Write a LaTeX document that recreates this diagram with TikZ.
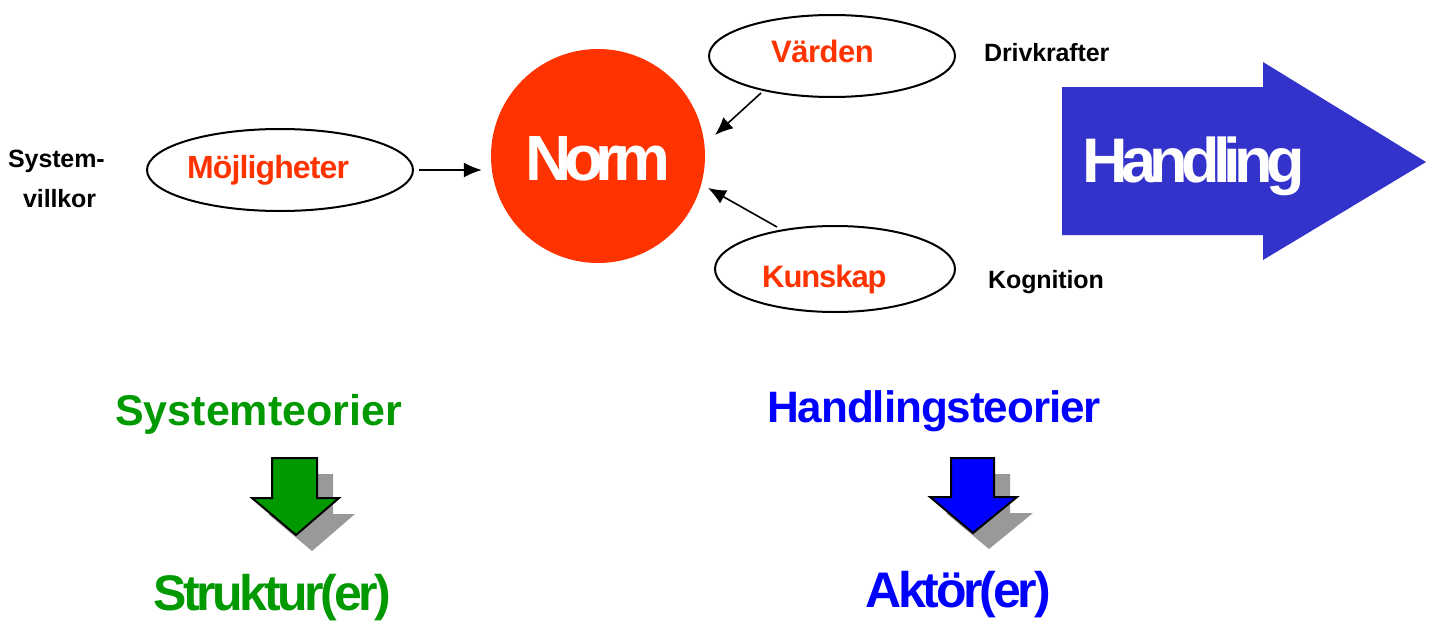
\documentclass[tikz,border=0pt]{standalone}
\usepackage{fontspec}
\setmainfont{Liberation Sans}
\usetikzlibrary{arrows.meta,shapes.geometric}
\definecolor{normred}{HTML}{FF3300}
\definecolor{handblue}{HTML}{3333CC}
\definecolor{tgreen}{HTML}{009900}
\definecolor{tblue}{HTML}{0000FF}
\definecolor{shadowgray}{HTML}{999999}
\newcommand{\tf}[2]{\bfseries\fontsize{#1}{#1}\selectfont\addfontfeature{LetterSpace=#2}}
\tikzset{
  oval/.style={ellipse,draw=black,line width=2pt,inner sep=0pt},
  txt/.style={inner sep=0pt,anchor=base west},
  conn/.style={-{Latex[length=18pt,width=15pt]},line width=1.6pt,black},
  downarrow/.style={draw=black,line width=2pt,line join=miter},
  shadowarrow/.style={fill=shadowgray,draw=none}
}
\begin{document}
\begin{tikzpicture}[x=1pt,y=-1pt]
\useasboundingbox (0,0) rectangle (1433,621);
% ellipses
\node[oval,minimum width=266pt,minimum height=82pt] (moj) at (280,170) {};
\node[oval,minimum width=246pt,minimum height=82pt] (var) at (832,56) {};
\node[oval,minimum width=240pt,minimum height=86pt] (kun) at (835,269) {};
% norm circle
\node[circle,fill=normred,minimum size=214pt,inner sep=0pt] (norm) at (598,156) {};
\node[txt,text=white,font=\tf{64}{-11.5}] (normtxt) at (525,180) {Norm};
% texts in ellipses
\node[txt,text=normred,font=\tf{32}{-2.8}] (mojtxt) at (187,178) {Möjligheter};
\node[txt,text=normred,font=\tf{31}{-1.6}] (vartxt) at (771,62) {Värden};
\node[txt,text=normred,font=\tf{31}{-3.5}] (kuntxt) at (762,287) {Kunskap};
% side labels
\node[txt,font=\tf{25}{-0.5}] (driv) at (984,61) {Drivkrafter};
\node[txt,font=\tf{25}{-0.5}] (kogn) at (988,288) {Kognition};
\node[txt,font=\tf{25}{-0.5}] (sys1) at (8,167) {System-};
\node[txt,font=\tf{25}{-0.5}] (sys2) at (23,207) {villkor};
% connectors
\coordinate (v1) at (761,93);
\coordinate (v2) at (715,135);
\coordinate (k1) at (777,227);
\coordinate (k2) at (708,188);
\draw[conn,shorten <=5pt,shorten >=9pt] (moj.east) -- (norm.west |- moj.east);
\draw[conn] (v1) -- (v2);
\draw[conn] (k1) -- (k2);
% Handling arrow
\path[fill=handblue] (1062,87) -- (1263,87) -- (1263,62) -- (1426,162) -- (1263,260) -- (1263,235) -- (1062,235) -- cycle;
\node[txt,text=white,font=\tf{63}{-10.6}] (hand) at (1082,182) {Handling};
% bottom texts
\node[txt,text=tgreen,font=\tf{43}{0}] (systeo) at (115,425) {Systemteorier};
\node[txt,text=tblue,font=\tf{44}{-2.4}] (handteo) at (767,422) {Handlingsteorier};
\node[txt,text=tgreen,font=\tf{50}{-6.7}] (strukt) at (153,610) {Struktur(er)};
\node[txt,text=tblue,font=\tf{50}{-6.4}] (aktor) at (865,607) {Aktör(er)};
% down arrows
\path[shadowarrow,shift={(16,16)}] (272,458) -- (317,458) -- (317,498) -- (339,498) -- (296,535) -- (252,498) -- (272,498) -- cycle;
\path[downarrow,fill=tgreen] (272,458) -- (317,458) -- (317,498) -- (339,498) -- (296,535) -- (252,498) -- (272,498) -- cycle;
\path[shadowarrow,shift={(16,16)}] (951,458) -- (994,458) -- (994,497) -- (1017,497) -- (973,533) -- (930,497) -- (951,497) -- cycle;
\path[downarrow,fill=tblue] (951,458) -- (994,458) -- (994,497) -- (1017,497) -- (973,533) -- (930,497) -- (951,497) -- cycle;
\end{tikzpicture}
\end{document}
